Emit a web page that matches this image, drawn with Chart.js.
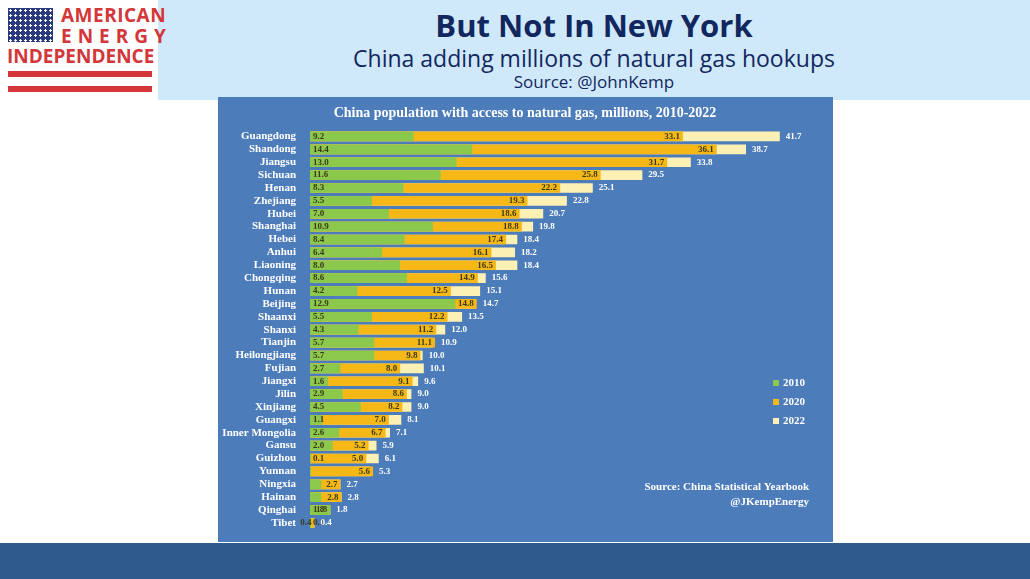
<!DOCTYPE html>
<html>
<head>
<meta charset="utf-8">
<script src="https://cdn.jsdelivr.net/npm/chart.js@4.4.0/dist/chart.umd.min.js"></script>
<style>
  body { margin: 0; width: 1030px; height: 579px; position: relative; background: #fff; overflow: hidden; font-family: "Open Sans", sans-serif; }
  #header { position: absolute; left: 158px; top: 0; width: 872px; height: 100px; background: #cfe9fb; }
  #h1 { position: absolute; left: 0; width: 872px; top: 4px; text-align: center; font: bold 31px "Open Sans", sans-serif; color: #12275e; }
  #h2 { position: absolute; left: 0; width: 872px; top: 42px; text-align: center; font: 23px "Open Sans", sans-serif; color: #12275e; }
  #h3 { position: absolute; left: 0; width: 872px; top: 70px; text-align: center; font: 17px "Open Sans", sans-serif; color: #12275e; }
  #flag { position: absolute; left: 8px; top: 8px; width: 45px; height: 34px; background: #2b3a7e;
          background-image: radial-gradient(#fff 1px, transparent 1.2px); background-size: 5px 5px; }
  .logo { position: absolute; color: #d4363a; font: bold 19px "Open Sans", sans-serif; line-height: 19px; }
  .stripe { position: absolute; left: 8px; width: 144px; height: 6px; background: #d4363a; }
  #panel { position: absolute; left: 218px; top: 97px; width: 615px; height: 445px; background: #4d7cba; }
  #bottom { position: absolute; left: 0; top: 543px; width: 1030px; height: 36px; background: #2e5a8c; }
  canvas { position: absolute; left: 0; top: 0; }
</style>
</head>
<body>
<div id="header">
  <div id="h1">But Not In New York</div>
  <div id="h2">China adding millions of natural gas hookups</div>
  <div id="h3">Source: @JohnKemp</div>
</div>
<div id="flag"></div>
<div class="logo" style="left:61px;top:6px;letter-spacing:0.5px">AMERICAN</div>
<div class="logo" style="left:61px;top:27px;letter-spacing:6px">ENERGY</div>
<div class="logo" style="left:7px;top:47px;">INDEPENDENCE</div>
<div class="stripe" style="top:71px"></div>
<div class="stripe" style="top:86px"></div>
<div id="panel"><canvas id="c" width="615" height="445"></canvas></div>
<div id="bottom"></div>
<script>
const provinces = ["Guangdong","Shandong","Jiangsu","Sichuan","Henan","Zhejiang","Hubei","Shanghai","Hebei","Anhui",
  "Liaoning","Chongqing","Hunan","Beijing","Shaanxi","Shanxi","Tianjin","Heilongjiang","Fujian","Jiangxi",
  "Jilin","Xinjiang","Guangxi","Inner Mongolia","Gansu","Guizhou","Yunnan","Ningxia","Hainan","Qinghai","Tibet"];
const v2010 = [9.2,14.4,13.0,11.6,8.3,5.5,7.0,10.9,8.4,6.4,8.0,8.6,4.2,12.9,5.5,4.3,5.7,5.7,2.7,1.6,2.9,4.5,1.1,2.6,2.0,0.1,0.1,1.0,1.0,1.8,0.1];
const v2020 = [33.1,36.1,31.7,25.8,22.2,19.3,18.6,18.8,17.4,16.1,16.5,14.9,12.5,14.8,12.2,11.2,11.1,9.8,8.0,9.1,8.6,8.2,7.0,6.7,5.2,5.0,5.6,2.7,2.8,1.8,0.4];
const v2022 = [41.7,38.7,33.8,29.5,25.1,22.8,20.7,19.8,18.4,18.2,18.4,15.6,15.1,14.7,13.5,12.0,10.9,10.0,10.1,9.6,9.0,9.0,8.1,7.1,5.9,6.1,5.3,2.7,2.8,1.8,0.4];
const hide2010 = ["Yunnan","Ningxia","Hainan"];

const serif = '"Liberation Serif", "DejaVu Serif", serif';

const labelsPlugin = {
  id: "labels",
  afterDatasetsDraw(chart) {
    const ctx = chart.ctx;
    const xs = chart.scales.x, ys = chart.scales.y;
    const x0 = xs.getPixelForValue(0);
    ctx.save();
    ctx.textBaseline = "middle";
    ctx.font = "bold 9px " + serif;
    provinces.forEach((p, i) => {
      const y = ys.getPixelForValue(i);
      ctx.fillStyle = "#3a3a1a";
      if (!hide2010.includes(p)) { ctx.textAlign = "left"; ctx.fillText(v2010[i].toFixed(1), x0 + 3, y); }
      ctx.textAlign = "right";
      ctx.fillText(v2020[i].toFixed(1), xs.getPixelForValue(v2020[i]) - 3, y);
      ctx.fillStyle = "#ffffff";
      ctx.textAlign = "left";
      const end = Math.max(v2010[i], v2020[i], v2022[i]);
      ctx.fillText(v2022[i].toFixed(1), xs.getPixelForValue(end) + 6, y);
    });
    // title
    ctx.font = "bold 14px " + serif;
    ctx.textAlign = "center";
    ctx.fillText("China population with access to natural gas, millions, 2010-2022", 307, 16);
    // legend
    ctx.font = "bold 11px " + serif;
    ctx.textAlign = "left";
    chart.data.datasets.slice().reverse().forEach((ds, k) => {
      const ly = 286 + k * 19;
      ctx.fillStyle = ds.backgroundColor;
      ctx.fillRect(555, ly - 3, 6, 6);
      ctx.fillStyle = "#ffffff";
      ctx.fillText(ds.label, 565, ly);
    });
    ctx.textAlign = "right";
    ctx.fillText("Source: China Statistical Yearbook", 591, 390);
    ctx.fillText("@JKempEnergy", 591, 405);
    ctx.restore();
  }
};

new Chart(document.getElementById("c"), {
  type: "bar",
  data: {
    labels: provinces,
    datasets: [
      { label: "2022", data: v2022, backgroundColor: "#fdf0b4", order: 3 },
      { label: "2020", data: v2020, backgroundColor: "#f6b817", order: 2 },
      { label: "2010", data: v2010, backgroundColor: "#8cc84c", order: 1 }
    ]
  },
  options: {
    indexAxis: "y",
    responsive: false,
    animation: false,
    layout: { padding: { top: 33, bottom: 10, right: 16, left: 0 } },
    categoryPercentage: 0.75,
    barPercentage: 1,
    plugins: { legend: { display: false }, tooltip: { enabled: false } },
    scales: {
      x: { display: false, min: 0, max: 45, stacked: false },
      y: {
        stacked: true,
        grid: { display: false },
        border: { display: false },
        afterFit(s) { s.width = 92; },
        ticks: { color: "#ffffff", font: { family: serif, size: 11, weight: "bold" }, padding: 6, autoSkip: false }
      }
    }
  },
  plugins: [labelsPlugin]
});
</script>
</body>
</html>
